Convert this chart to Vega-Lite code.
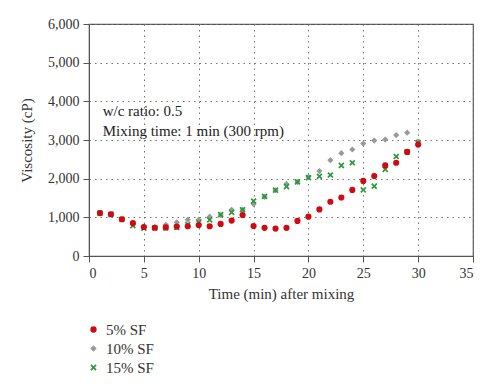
{
  "$schema": "https://vega.github.io/schema/vega-lite/v6.json",
  "width": 384,
  "height": 232,
  "autosize": {"type": "none"},
  "padding": {"left": 89, "top": 24, "right": 27, "bottom": 135},
  "config": {
    "font": "Liberation Serif",
    "view": {"stroke": "#555555", "strokeWidth": 1.2},
    "axis": {
      "labelFont": "Liberation Serif",
      "titleFont": "Liberation Serif",
      "labelFontSize": 14,
      "titleFontSize": 15,
      "titleFontWeight": "normal",
      "labelColor": "#333333",
      "titleColor": "#333333",
      "domainColor": "#555555",
      "tickColor": "#555555",
      "gridColor": "#777777",
      "gridDash": [1.5, 4],
      "gridWidth": 1,
      "tickSize": 6
    },
    "legend": {
      "labelFont": "Liberation Serif", "labelFontSize": 15, "labelColor": "#333333"
    }
  },
  "datasets": {
    "pts": [
      {"t": 1, "v": 1110, "s": "5% SF"}, {"t": 2, "v": 1080, "s": "5% SF"}, {"t": 3, "v": 950, "s": "5% SF"},
      {"t": 4, "v": 850, "s": "5% SF"}, {"t": 5, "v": 750, "s": "5% SF"}, {"t": 6, "v": 730, "s": "5% SF"},
      {"t": 7, "v": 740, "s": "5% SF"}, {"t": 8, "v": 760, "s": "5% SF"}, {"t": 9, "v": 770, "s": "5% SF"},
      {"t": 10, "v": 800, "s": "5% SF"}, {"t": 11, "v": 770, "s": "5% SF"}, {"t": 12, "v": 830, "s": "5% SF"},
      {"t": 13, "v": 915, "s": "5% SF"}, {"t": 14, "v": 1060, "s": "5% SF"}, {"t": 15, "v": 775, "s": "5% SF"},
      {"t": 16, "v": 728, "s": "5% SF"}, {"t": 17, "v": 710, "s": "5% SF"}, {"t": 18, "v": 728, "s": "5% SF"},
      {"t": 19, "v": 907, "s": "5% SF"}, {"t": 20, "v": 1018, "s": "5% SF"}, {"t": 21, "v": 1205, "s": "5% SF"},
      {"t": 22, "v": 1403, "s": "5% SF"}, {"t": 23, "v": 1513, "s": "5% SF"}, {"t": 24, "v": 1710, "s": "5% SF"},
      {"t": 25, "v": 1941, "s": "5% SF"}, {"t": 26, "v": 2069, "s": "5% SF"}, {"t": 27, "v": 2343, "s": "5% SF"},
      {"t": 28, "v": 2411, "s": "5% SF"}, {"t": 29, "v": 2692, "s": "5% SF"}, {"t": 30, "v": 2882, "s": "5% SF"},
      {"t": 1, "v": 1110, "s": "10% SF"}, {"t": 2, "v": 1080, "s": "10% SF"}, {"t": 3, "v": 950, "s": "10% SF"},
      {"t": 4, "v": 820, "s": "10% SF"}, {"t": 5, "v": 760, "s": "10% SF"}, {"t": 6, "v": 750, "s": "10% SF"},
      {"t": 7, "v": 805, "s": "10% SF"}, {"t": 8, "v": 870, "s": "10% SF"}, {"t": 9, "v": 940, "s": "10% SF"},
      {"t": 10, "v": 940, "s": "10% SF"}, {"t": 11, "v": 1018, "s": "10% SF"}, {"t": 12, "v": 1060, "s": "10% SF"},
      {"t": 13, "v": 1197, "s": "10% SF"}, {"t": 14, "v": 1197, "s": "10% SF"}, {"t": 15, "v": 1343, "s": "10% SF"},
      {"t": 16, "v": 1530, "s": "10% SF"}, {"t": 17, "v": 1700, "s": "10% SF"}, {"t": 18, "v": 1864, "s": "10% SF"},
      {"t": 19, "v": 1915, "s": "10% SF"}, {"t": 20, "v": 2050, "s": "10% SF"}, {"t": 21, "v": 2197, "s": "10% SF"},
      {"t": 22, "v": 2479, "s": "10% SF"}, {"t": 23, "v": 2659, "s": "10% SF"}, {"t": 24, "v": 2754, "s": "10% SF"},
      {"t": 25, "v": 2908, "s": "10% SF"}, {"t": 26, "v": 2985, "s": "10% SF"}, {"t": 27, "v": 3010, "s": "10% SF"},
      {"t": 28, "v": 3128, "s": "10% SF"}, {"t": 29, "v": 3190, "s": "10% SF"}, {"t": 30, "v": 2967, "s": "10% SF"},
      {"t": 1, "v": 1110, "s": "15% SF"}, {"t": 2, "v": 1080, "s": "15% SF"}, {"t": 3, "v": 950, "s": "15% SF"},
      {"t": 4, "v": 787, "s": "15% SF"}, {"t": 5, "v": 718, "s": "15% SF"}, {"t": 6, "v": 728, "s": "15% SF"},
      {"t": 7, "v": 728, "s": "15% SF"}, {"t": 8, "v": 740, "s": "15% SF"}, {"t": 9, "v": 813, "s": "15% SF"},
      {"t": 10, "v": 864, "s": "15% SF"}, {"t": 11, "v": 933, "s": "15% SF"}, {"t": 12, "v": 1069, "s": "15% SF"},
      {"t": 13, "v": 1128, "s": "15% SF"}, {"t": 14, "v": 1197, "s": "15% SF"}, {"t": 15, "v": 1420, "s": "15% SF"},
      {"t": 16, "v": 1540, "s": "15% SF"}, {"t": 17, "v": 1703, "s": "15% SF"}, {"t": 18, "v": 1795, "s": "15% SF"},
      {"t": 19, "v": 1915, "s": "15% SF"}, {"t": 20, "v": 2026, "s": "15% SF"}, {"t": 21, "v": 2061, "s": "15% SF"},
      {"t": 22, "v": 2095, "s": "15% SF"}, {"t": 23, "v": 2343, "s": "15% SF"}, {"t": 24, "v": 2411, "s": "15% SF"},
      {"t": 25, "v": 1710, "s": "15% SF"}, {"t": 26, "v": 1805, "s": "15% SF"}, {"t": 27, "v": 2241, "s": "15% SF"},
      {"t": 28, "v": 2574, "s": "15% SF"}, {"t": 29, "v": 2692, "s": "15% SF"}, {"t": 30, "v": 2930, "s": "15% SF"}
    ],
    "notes": [
      {"t": 1.25, "v": 3760, "label": "w/c ratio: 0.5"},
      {"t": 1.25, "v": 3220, "label": "Mixing time: 1 min (300 rpm)"}
    ]
  },
  "encoding": {
    "x": {
      "field": "t", "type": "quantitative",
      "scale": {"domain": [0, 35], "nice": false},
      "axis": {"values": [0, 5, 10, 15, 20, 25, 30, 35], "format": ".0f", "title": "Time (min) after mixing", "labelPadding": 4, "titlePadding": 6}
    },
    "y": {
      "field": "v", "type": "quantitative",
      "scale": {"domain": [0, 6000], "nice": false},
      "axis": {"values": [0, 1000, 2000, 3000, 4000, 5000, 6000], "format": ",.0f", "title": "Viscosity (cP)", "labelPadding": 4, "titlePadding": 13}
    }
  },
  "layer": [
    {
      "data": {"name": "pts"},
      "mark": {"type": "point", "filled": true, "opacity": 1, "size": 38},
      "encoding": {
        "color": {
          "field": "s", "type": "nominal",
          "scale": {"domain": ["5% SF", "10% SF", "15% SF"], "range": ["#d10a12", "#9a9a9a", "#2e9a3e"]},
          "legend": {
            "title": null, "orient": "none", "legendX": -3, "legendY": 298, "direction": "vertical",
            "rowPadding": 3, "symbolSize": 40, "labelOffset": 5
          }
        },
        "shape": {
          "field": "s", "type": "nominal",
          "scale": {"domain": ["5% SF", "10% SF", "15% SF"], "range": ["circle", "diamond", "M-1,-0.6L-0.6,-1L0,-0.4L0.6,-1L1,-0.6L0.4,0L1,0.6L0.6,1L0,0.4L-0.6,1L-1,0.6L-0.4,0Z"]},
          "legend": {
            "title": null, "orient": "none", "legendX": -3, "legendY": 298, "direction": "vertical",
            "rowPadding": 3, "symbolSize": 40, "labelOffset": 5
          }
        },
        "order": {"field": "s", "sort": "ascending"}
      }
    },
    {
      "data": {"name": "notes"},
      "mark": {"type": "text", "align": "left", "baseline": "middle", "font": "Liberation Serif", "fontSize": 15, "color": "#222222"},
      "encoding": {
        "text": {"field": "label"}
      }
    }
  ]
}
